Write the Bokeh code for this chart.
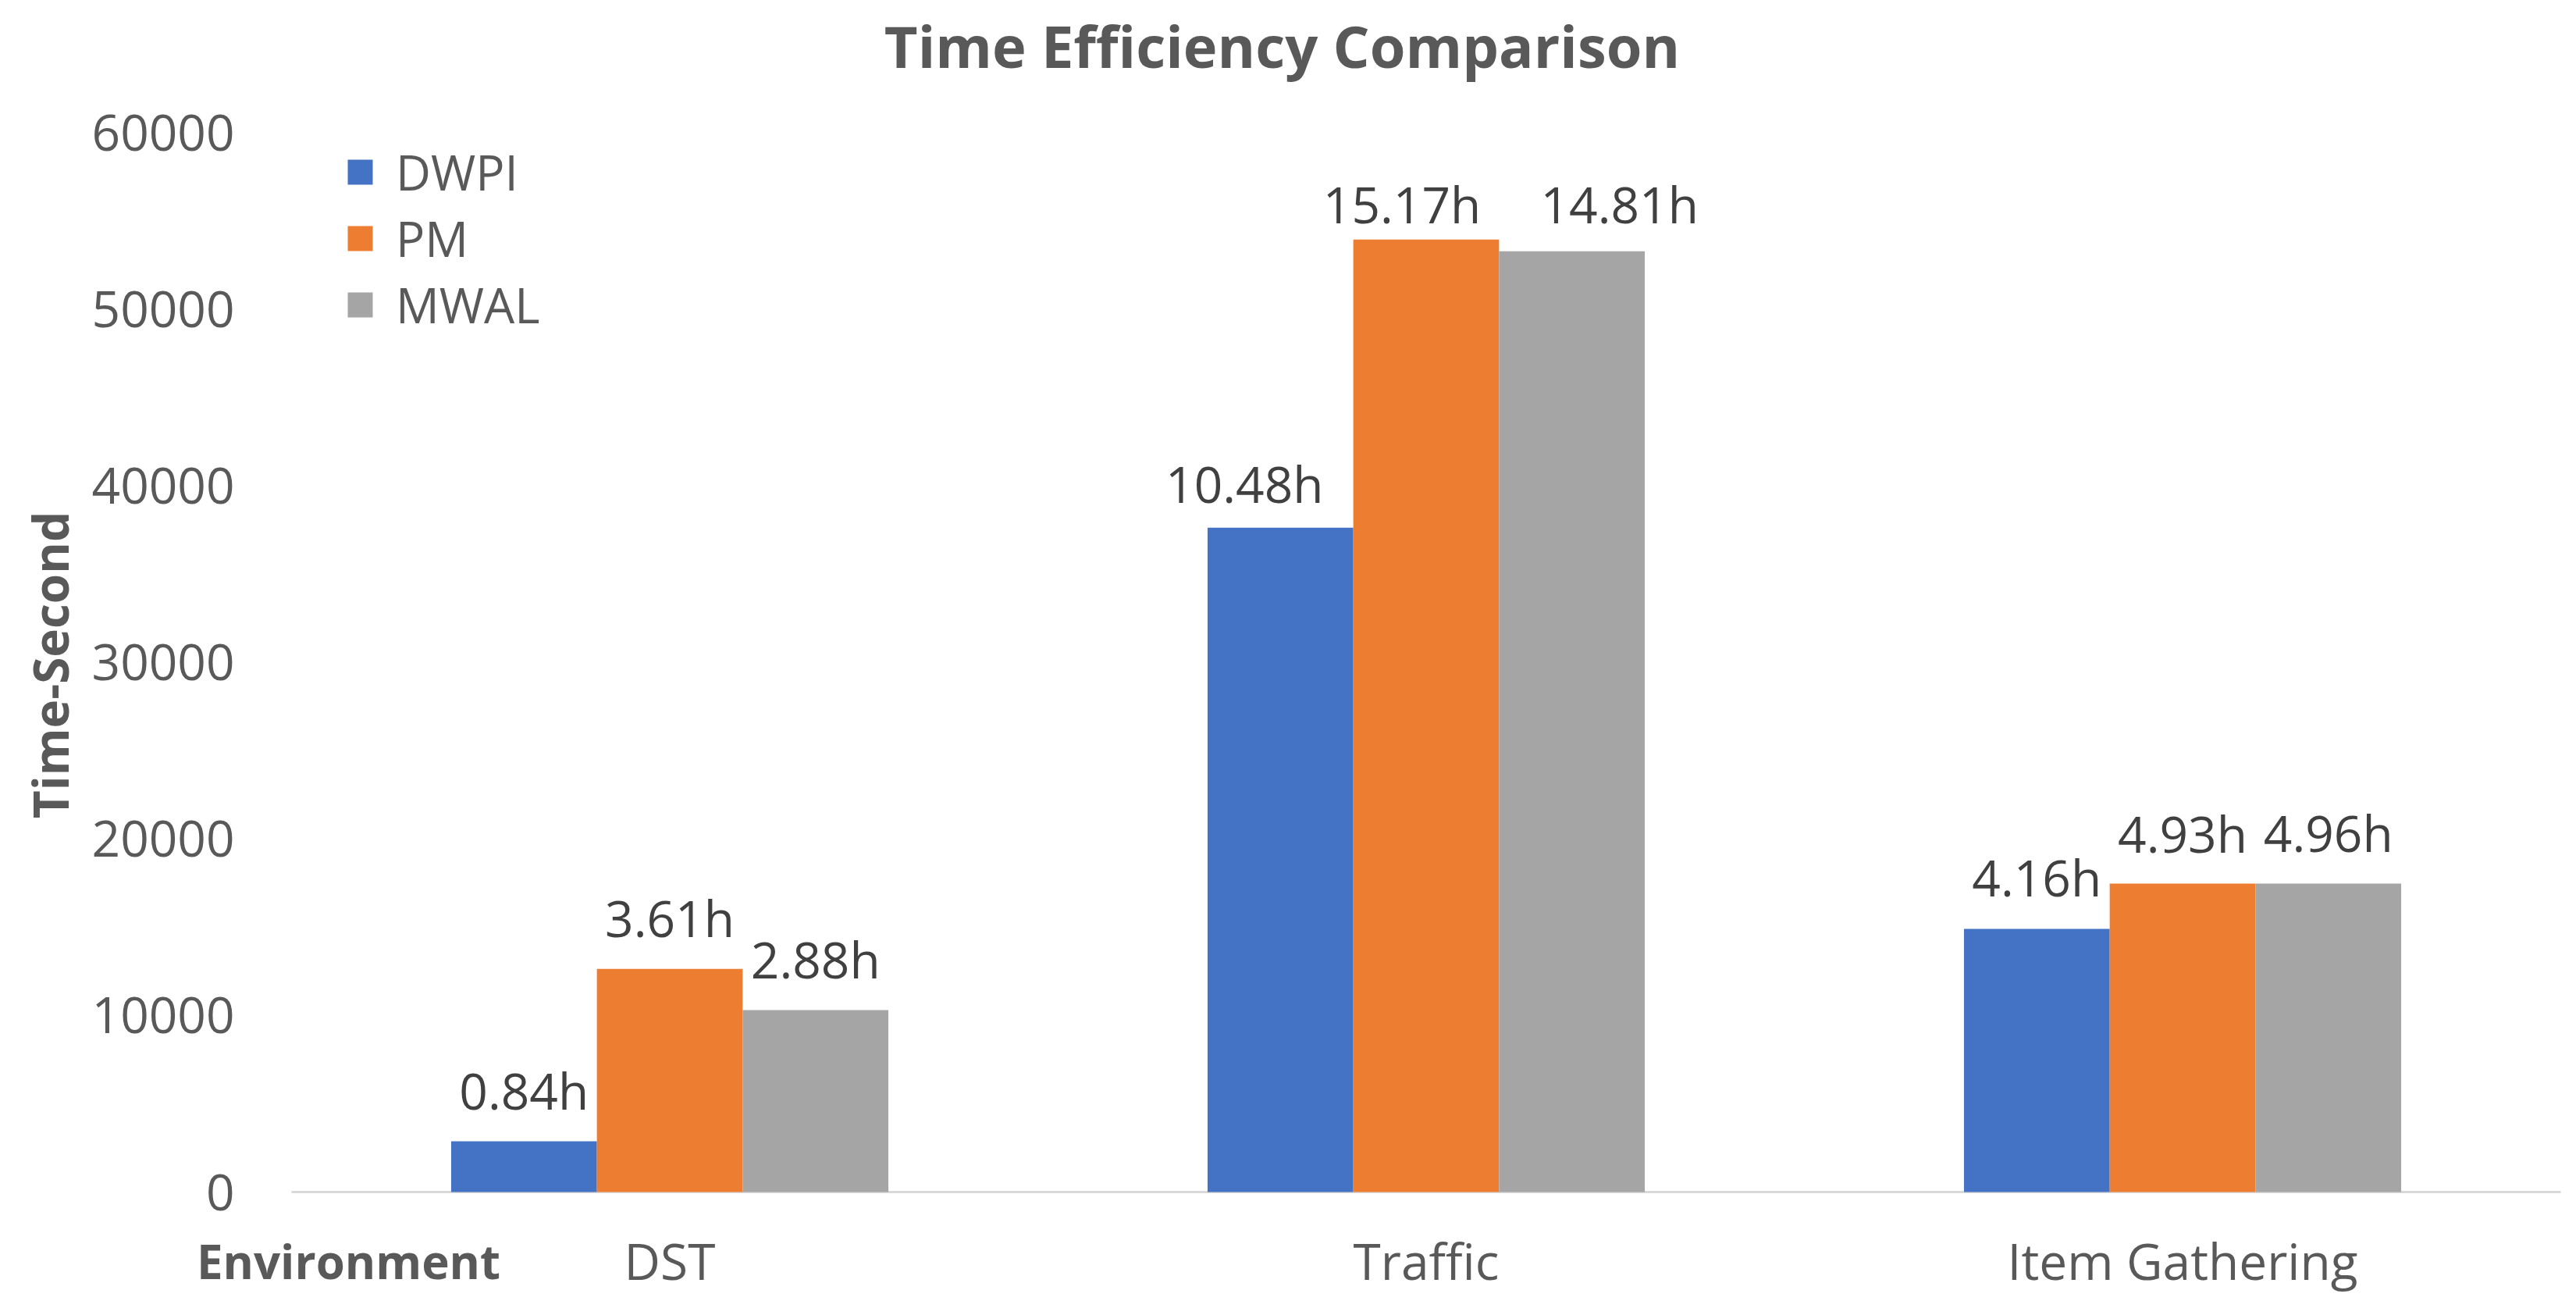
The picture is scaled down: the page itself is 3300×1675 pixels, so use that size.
import math
from bokeh.plotting import figure
from bokeh.models import (ColumnDataSource, Range1d, Label, LabelSet,
                          Legend, LegendItem)
from bokeh.core.properties import value
from bokeh.embed import file_html
from bokeh.resources import INLINE

# ---------------- data ----------------
environments = ["DST", "Traffic", "Item Gathering"]
methods = ["DWPI", "PM", "MWAL"]
dwpi_seconds = [2870, 37620, 14900]
pm_seconds = [12640, 53930, 17460]
mwal_seconds = [10300, 53270, 17470]
dwpi_labels = ["0.84h", "10.48h", "4.16h"]
pm_labels = ["3.61h", "15.17h", "4.93h"]
mwal_labels = ["2.88h", "14.81h", "4.96h"]
y_ticks = [0, 10000, 20000, 30000, 40000, 50000, 60000]
colors = ["#4472C4", "#ED7D31", "#A5A5A5"]

# ---------------- layout (pixels on the canvas) ----------------
FONT = "Open Sans"
W, H = 3284, 1659
PX_L, PX_R, PX_T, PX_B = 373, 3280, 169, 1526   # plotting area of the bars
Y_MAX = 60000
n = len(environments)
ux = n / (PX_R - PX_L)          # data units per pixel (x)
uy = Y_MAX / (PX_B - PX_T)      # data units per pixel (y)

p = figure(x_range=Range1d(-PX_L * ux, n + (W - PX_R) * ux),
           y_range=Range1d(-(H - PX_B) * uy, Y_MAX + PX_T * uy),
           width=W, height=H, output_backend="svg", toolbar_location=None,
           x_axis_type=None, y_axis_type=None, min_border=0)
p.outline_line_color = None
p.background_fill_color = "white"
p.border_fill_color = "white"

bar_w = 1.0 / (3 + 2.19)
offsets = [-bar_w, 0.0, bar_w]
series = [dwpi_seconds, pm_seconds, mwal_seconds]
labels = [dwpi_labels, pm_labels, mwal_labels]
centers = [i + 0.5 for i in range(n)]

# label nudges (pixels) - the Traffic labels are moved by hand in the original
label_dx = [[0, -46, 0], [0, -31, 0], [0, 61, 0]]
label_dy = [[41, 32, 42], [41, 21, 40], [41, 36, 40]]

# x-axis baseline
p.segment(x0=[0], y0=[0], x1=[n], y1=[0], line_color="#D9D9D9", line_width=3)

renderers = []
for k in range(3):
    src = ColumnDataSource(dict(x=[c + offsets[k] for c in centers], sec=series[k],
                                lab=labels[k], dx=label_dx[k], dy=label_dy[k]))
    r = p.vbar(x="x", top="sec", width=bar_w, bottom=0,
               source=src, fill_color=colors[k], line_color=None)
    renderers.append(r)
    ls = LabelSet(x="x", y="sec", text="lab", source=src, x_offset="dx", y_offset="dy",
                  text_align="center", text_baseline="alphabetic",
                  text_font=value(FONT), text_font_size="64px", text_color="#404040")
    p.add_layout(ls)

# y tick labels
p.text(x=[(300 - PX_L) * ux] * len(y_ticks), y=y_ticks, text=[str(t) for t in y_ticks],
       text_align="right", text_baseline="middle", text_font=value(FONT),
       text_font_size="64px", text_color="#595959")

# category labels
CAT_MID = 1614
p.text(x=centers, y=[(PX_B - CAT_MID) * uy] * n, text=environments,
       text_align="center", text_baseline="middle", text_font=value(FONT),
       text_font_size="64px", text_color="#595959")

# titles
p.add_layout(Label(x=1642, y=H - 58, x_units="screen", y_units="screen",
                   text="Time Efficiency Comparison", text_align="center",
                   text_baseline="middle", text_font=FONT, text_font_style="bold",
                   text_font_size="74px", text_color="#595959"))
p.add_layout(Label(x=446, y=H - CAT_MID, x_units="screen", y_units="screen",
                   text="Environment", text_align="center", text_baseline="middle",
                   text_font=FONT, text_font_style="bold", text_font_size="60px",
                   text_color="#595959"))
p.add_layout(Label(x=63, y=H - 851, x_units="screen", y_units="screen",
                   text="Time-Second", angle=math.pi / 2, text_align="center",
                   text_baseline="middle", text_font=FONT, text_font_style="bold",
                   text_font_size="62px", text_color="#595959"))

legend = Legend(items=[LegendItem(label=methods[i], renderers=[renderers[i]]) for i in range(3)],
                location=(441, 1227), border_line_color=None, background_fill_alpha=0,
                glyph_width=40, glyph_height=40, label_standoff=26,
                label_text_font=FONT, label_text_font_size="62px",
                label_text_color="#595959", spacing=1, padding=4, margin=0)
p.add_layout(legend)

open("out.html", "w").write(file_html(p, INLINE))
